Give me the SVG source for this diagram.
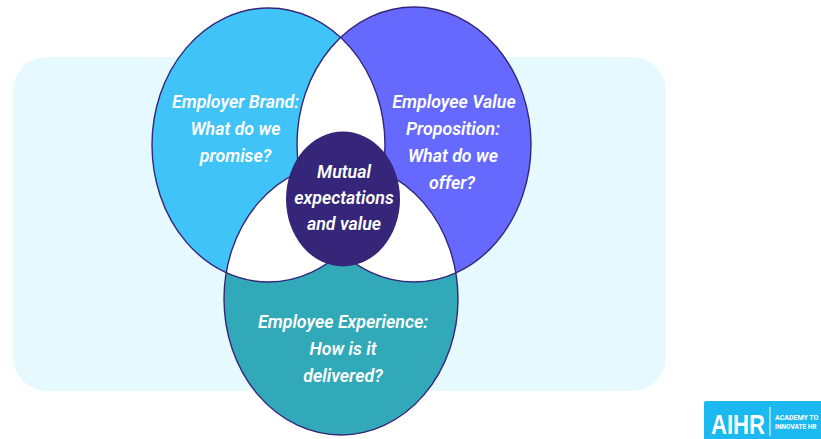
<svg xmlns="http://www.w3.org/2000/svg" width="821" height="439" viewBox="0 0 821 439">
<style>
.o{fill:none;stroke:#35267a;stroke-width:1.4}
.t{font-family:"Roboto","Liberation Sans",sans-serif;font-style:italic;font-weight:600;font-size:17.8px;fill:#fff;text-anchor:middle}
.w{fill:#fff}
.s{font-family:"Roboto","Liberation Sans",sans-serif;font-weight:700;font-size:7px;fill:#fff}
</style>
<defs>
<clipPath id="cb"><ellipse cx="268.5" cy="145" rx="116.5" ry="137"/></clipPath>
<clipPath id="cp"><ellipse cx="414" cy="144.500" rx="117" ry="137.500"/></clipPath>
</defs>
<rect x="13" y="57" width="653" height="334" rx="34" fill="#e6f9fe"/>
<g id="experience"><ellipse cx="341" cy="299" rx="117" ry="136" fill="#32a9b9"/></g>
<g id="brand"><ellipse cx="268.5" cy="145" rx="116.500" ry="137" fill="#40c3f7"/></g>
<g id="value"><ellipse cx="414" cy="144.500" rx="117" ry="137.500" fill="#6569fe"/></g>
<g id="overlaps">
<ellipse cx="414" cy="144.500" rx="117" ry="137.500" class="w" clip-path="url(#cb)"/>
<ellipse cx="341" cy="299" rx="117" ry="136" class="w" clip-path="url(#cb)"/>
<ellipse cx="341" cy="299" rx="117" ry="136" class="w" clip-path="url(#cp)"/>
</g>
<g id="connectors">
<ellipse cx="341" cy="299" rx="117" ry="136" class="o"/>
<ellipse cx="268.500" cy="145" rx="116.500" ry="137" class="o"/>
<ellipse cx="414" cy="144.500" rx="117" ry="137.500" class="o"/>
</g>
<g id="center"><ellipse cx="343" cy="199" rx="57" ry="67.500" fill="#35267a"/>
<text class="t" x="344" y="178">Mutual</text>
<text class="t" x="344" y="204">expectations</text>
<text class="t" x="344" y="230">and value</text></g>
<g id="brand-text">
<text class="t" x="235.500" y="108">Employer Brand:</text>
<text class="t" x="235.500" y="135">What do we</text>
<text class="t" x="235.500" y="162">promise?</text></g>
<g id="value-text">
<text class="t" x="454" y="108">Employee Value</text>
<text class="t" x="453" y="135">Proposition:</text>
<text class="t" x="453" y="162">What do we</text>
<text class="t" x="452" y="189">offer?</text></g>
<g id="experience-text">
<text class="t" x="343" y="328">Employee Experience:</text>
<text class="t" x="343" y="355">How is it</text>
<text class="t" x="343" y="382">delivered?</text></g>
<g id="logo">
<path d="M706 401h115v38H704V403a2 2 0 0 1 2-2z" fill="#1cb8f0"/>
<text transform="translate(711 433.500) scale(.82 1)" font-family="'Liberation Sans',sans-serif" font-weight="700" font-size="27" fill="#fff">AIHR</text>
<rect x="769.500" y="407" width="1" height="29" fill="#fff"/>
<text class="s" transform="translate(775 420)">ACADEMY TO</text>
<text class="s" transform="translate(775 429)" style="font-size:6.500px">INNOVATE HR</text>
</g>
</svg>
